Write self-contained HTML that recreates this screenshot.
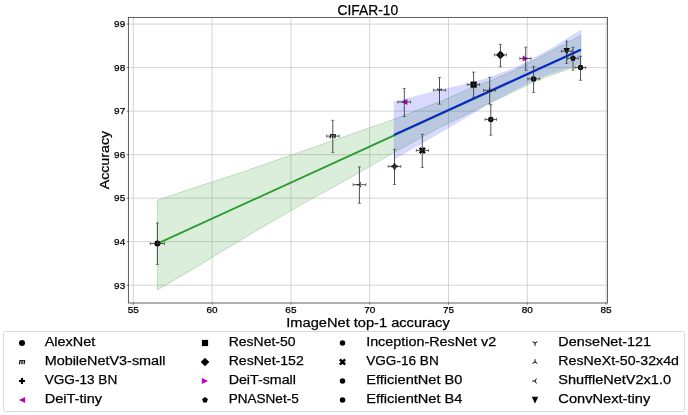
<!DOCTYPE html>
<html><head><meta charset="utf-8"><title>CIFAR-10</title>
<style>
html,body{margin:0;padding:0;background:#fff;}
body{width:688px;height:415px;overflow:hidden;font-family:"Liberation Sans",sans-serif;}
svg{display:block;will-change:transform;}
text{font-family:"Liberation Sans",sans-serif;fill:#000;stroke:#000;stroke-width:0.25px;}
</style></head><body>
<svg width="688" height="415" viewBox="0 0 688 415">
<rect width="688" height="415" fill="#fff"/>
<path d="M133.30 17.4V303.0M212.10 17.4V303.0M290.90 17.4V303.0M369.70 17.4V303.0M448.50 17.4V303.0M527.30 17.4V303.0M606.10 17.4V303.0M128.4 285.20H607.4M128.4 241.68H607.4M128.4 198.16H607.4M128.4 154.64H607.4M128.4 111.12H607.4M128.4 67.60H607.4M128.4 24.08H607.4" stroke="#cacaca" stroke-width="0.8" fill="none"/>
<path d="M157.35 200.2L200 185.8L240 172.9L300 152.0L394 119.3L430 105.4L440 101.6L475 86.3L490 81.0L515 70.2L550 51.8L580.9 35.5L580.9 65.0L550 75.6L535 81.4L490 103.0L480 107.8L440 127.3L394 152.4L340 183.5L300 205.3L250 234.5L190 270.9L157.35 289.9Z" fill="#2a922a" fill-opacity="0.17" stroke="#2a922a" stroke-opacity="0.4" stroke-width="0.6"/>
<path d="M394 102.1L430 92.4L475 82.0L490 77.3L515 68.0L550 49.3L580.9 30.0L580.9 63.8L550 74.0L535 79.7L490 102.6L480 109.3L444.8 130L394 159.3Z" fill="#0000ff" fill-opacity="0.15" stroke="#0000ff" stroke-opacity="0.1" stroke-width="0.6"/>
<path d="M157.4 243.65L580.9 49.96" stroke="#2f9c2f" stroke-width="1.9" fill="none"/>
<path d="M394.0 134.84L580.9 49.61" stroke="#0a20da" stroke-width="2.1" fill="none"/>
<circle cx="157.4" cy="243.6" r="3.00" fill="#000"/>
<path d="M157.4 223.0V264.4M150.2 243.6H164.5" stroke="#333" stroke-width="0.85" fill="none"/><path d="M155.8 223.0h3.2M155.8 264.4h3.2M150.2 242.0v3.2M164.5 242.0v3.2" stroke="#333" stroke-width="0.6" fill="none"/>
<text x="332.8" y="137.70" font-size="7.50" font-style="italic" font-weight="bold" text-anchor="middle" fill="#000">m</text>
<path d="M332.8 120.3V152.4M326.6 136.1H339.3" stroke="#333" stroke-width="0.85" fill="none"/><path d="M331.2 120.3h3.2M331.2 152.4h3.2M326.6 134.5v3.2M339.3 134.5v3.2" stroke="#333" stroke-width="0.6" fill="none"/>
<path d="M359.4 184.7L356.60 184.70M359.4 184.7L360.80 187.12M359.4 184.7L360.80 182.28" stroke="#000" stroke-width="1.0" fill="none"/>
<path d="M359.4 166.9V203.3M353.1 184.7H365.9" stroke="#333" stroke-width="0.85" fill="none"/><path d="M357.79999999999995 166.9h3.2M357.79999999999995 203.3h3.2M353.1 183.1v3.2M365.9 183.1v3.2" stroke="#333" stroke-width="0.6" fill="none"/>
<path d="M393.40 163.40h2.20v1.90h1.90v2.20h-1.90v1.90h-2.20v-1.90h-1.90v-2.20h1.90Z" fill="#000"/>
<path d="M394.5 149.4V184.5M388.2 166.4H400.75" stroke="#333" stroke-width="0.85" fill="none"/><path d="M392.9 149.4h3.2M392.9 184.5h3.2M388.2 164.8v3.2M400.75 164.8v3.2" stroke="#333" stroke-width="0.6" fill="none"/>
<path d="M401.20 102.0L407.40 98.90L407.40 105.10Z" fill="#bf00bf"/>
<path d="M404.3 88.4V116.6M397.8 102.0H410.6" stroke="#333" stroke-width="0.85" fill="none"/><path d="M402.7 88.4h3.2M402.7 116.6h3.2M397.8 100.4v3.2M410.6 100.4v3.2" stroke="#333" stroke-width="0.6" fill="none"/>
<path transform="rotate(45 422.3 150.4)" d="M421.05 146.70h2.50v2.45h2.45v2.50h-2.45v2.45h-2.50v-2.45h-2.45v-2.50h2.45Z" fill="#000"/>
<path d="M422.3 134.3V167.4M416.3 150.4H428.6" stroke="#333" stroke-width="0.85" fill="none"/><path d="M420.7 134.3h3.2M420.7 167.4h3.2M416.3 148.8v3.2M428.6 148.8v3.2" stroke="#333" stroke-width="0.6" fill="none"/>
<path d="M439.5 90.1L439.50 92.90M439.5 90.1L437.08 88.70M439.5 90.1L441.92 88.70" stroke="#000" stroke-width="1.0" fill="none"/>
<path d="M439.5 77.5V104.2M433.4 90.1H445.6" stroke="#333" stroke-width="0.85" fill="none"/><path d="M437.9 77.5h3.2M437.9 104.2h3.2M433.4 88.5v3.2M445.6 88.5v3.2" stroke="#333" stroke-width="0.6" fill="none"/>
<rect x="470.50" y="81.50" width="6.20" height="6.20" fill="#000"/>
<path d="M473.6 72.1V97.3M467.3 84.6H479.6" stroke="#333" stroke-width="0.85" fill="none"/><path d="M472.0 72.1h3.2M472.0 97.3h3.2M467.3 83.0v3.2M479.6 83.0v3.2" stroke="#333" stroke-width="0.6" fill="none"/>
<path d="M489.7 90.3L489.70 87.50M489.7 90.3L492.12 91.70M489.7 90.3L487.28 91.70" stroke="#000" stroke-width="1.0" fill="none"/>
<path d="M489.7 77.3V104.0M483.5 90.3H495.6" stroke="#333" stroke-width="0.85" fill="none"/><path d="M488.09999999999997 77.3h3.2M488.09999999999997 104.0h3.2M483.5 88.7v3.2M495.6 88.7v3.2" stroke="#333" stroke-width="0.6" fill="none"/>
<circle cx="490.8" cy="119.4" r="2.75" fill="#000"/>
<path d="M490.8 104.7V135.2M485.0 119.4H496.6" stroke="#333" stroke-width="0.85" fill="none"/><path d="M489.2 104.7h3.2M489.2 135.2h3.2M485.0 117.80000000000001v3.2M496.6 117.80000000000001v3.2" stroke="#333" stroke-width="0.6" fill="none"/>
<path d="M496.10 54.9L500.4 50.60L504.70 54.9L500.4 59.20Z" fill="#000"/>
<path d="M500.4 44.4V66.8M494.3 54.9H506.4" stroke="#333" stroke-width="0.85" fill="none"/><path d="M498.79999999999995 44.4h3.2M498.79999999999995 66.8h3.2M494.3 53.3v3.2M506.4 53.3v3.2" stroke="#333" stroke-width="0.6" fill="none"/>
<path d="M528.80 58.5L522.60 55.40L522.60 61.60Z" fill="#bf00bf"/>
<path d="M525.7 47.2V70.3M519.8 58.5H531.0" stroke="#333" stroke-width="0.85" fill="none"/><path d="M524.1 47.2h3.2M524.1 70.3h3.2M519.8 56.9v3.2M531.0 56.9v3.2" stroke="#333" stroke-width="0.6" fill="none"/>
<circle cx="533.6" cy="78.9" r="2.75" fill="#000"/>
<path d="M533.6 66.4V92.4M527.8 78.9H539.8" stroke="#333" stroke-width="0.85" fill="none"/><path d="M532.0 66.4h3.2M532.0 92.4h3.2M527.8 77.30000000000001v3.2M539.8 77.30000000000001v3.2" stroke="#333" stroke-width="0.6" fill="none"/>
<path d="M566.7 54.70L563.45 48.00L569.95 48.00Z" fill="#000"/>
<path d="M566.7 41.1V63.4M561.4 51.25H572.1" stroke="#333" stroke-width="0.85" fill="none"/><path d="M565.1 41.1h3.2M565.1 63.4h3.2M561.4 49.65v3.2M572.1 49.65v3.2" stroke="#333" stroke-width="0.6" fill="none"/>
<path d="M573.00 55.30L575.85 57.37L574.76 60.73L571.24 60.73L570.15 57.37Z" fill="#000"/>
<path d="M573.0 47.3V70.2M567.5 58.3H578.3" stroke="#333" stroke-width="0.85" fill="none"/><path d="M571.4 47.3h3.2M571.4 70.2h3.2M567.5 56.699999999999996v3.2M578.3 56.699999999999996v3.2" stroke="#333" stroke-width="0.6" fill="none"/>
<circle cx="580.5" cy="67.6" r="2.75" fill="#000"/>
<path d="M580.5 56.3V80.3M575.1 67.6H585.7" stroke="#333" stroke-width="0.85" fill="none"/><path d="M578.9 56.3h3.2M578.9 80.3h3.2M575.1 66.0v3.2M585.7 66.0v3.2" stroke="#333" stroke-width="0.6" fill="none"/>
<rect x="128.4" y="17.4" width="479.00" height="285.60" fill="none" stroke="#444" stroke-width="0.85"/>
<path d="M133.30 303.0v1.7M212.10 303.0v1.7M290.90 303.0v1.7M369.70 303.0v1.7M448.50 303.0v1.7M527.30 303.0v1.7M606.10 303.0v1.7M128.4 285.20h-1.7M128.4 241.68h-1.7M128.4 198.16h-1.7M128.4 154.64h-1.7M128.4 111.12h-1.7M128.4 67.60h-1.7M128.4 24.08h-1.7" stroke="#444" stroke-width="0.7" fill="none"/>
<text x="133.30" y="312.9" font-size="9.4" stroke-width="0.1" text-anchor="middle" textLength="11.1" lengthAdjust="spacingAndGlyphs">55</text>
<text x="212.10" y="312.9" font-size="9.4" stroke-width="0.1" text-anchor="middle" textLength="11.1" lengthAdjust="spacingAndGlyphs">60</text>
<text x="290.90" y="312.9" font-size="9.4" stroke-width="0.1" text-anchor="middle" textLength="11.1" lengthAdjust="spacingAndGlyphs">65</text>
<text x="369.70" y="312.9" font-size="9.4" stroke-width="0.1" text-anchor="middle" textLength="11.1" lengthAdjust="spacingAndGlyphs">70</text>
<text x="448.50" y="312.9" font-size="9.4" stroke-width="0.1" text-anchor="middle" textLength="11.1" lengthAdjust="spacingAndGlyphs">75</text>
<text x="527.30" y="312.9" font-size="9.4" stroke-width="0.1" text-anchor="middle" textLength="11.1" lengthAdjust="spacingAndGlyphs">80</text>
<text x="606.10" y="312.9" font-size="9.4" stroke-width="0.1" text-anchor="middle" textLength="11.1" lengthAdjust="spacingAndGlyphs">85</text>
<text x="125.2" y="288.50" font-size="9.4" stroke-width="0.1" text-anchor="end" textLength="11.1" lengthAdjust="spacingAndGlyphs">93</text>
<text x="125.2" y="244.98" font-size="9.4" stroke-width="0.1" text-anchor="end" textLength="11.1" lengthAdjust="spacingAndGlyphs">94</text>
<text x="125.2" y="201.46" font-size="9.4" stroke-width="0.1" text-anchor="end" textLength="11.1" lengthAdjust="spacingAndGlyphs">95</text>
<text x="125.2" y="157.94" font-size="9.4" stroke-width="0.1" text-anchor="end" textLength="11.1" lengthAdjust="spacingAndGlyphs">96</text>
<text x="125.2" y="114.42" font-size="9.4" stroke-width="0.1" text-anchor="end" textLength="11.1" lengthAdjust="spacingAndGlyphs">97</text>
<text x="125.2" y="70.90" font-size="9.4" stroke-width="0.1" text-anchor="end" textLength="11.1" lengthAdjust="spacingAndGlyphs">98</text>
<text x="125.2" y="27.38" font-size="9.4" stroke-width="0.1" text-anchor="end" textLength="11.1" lengthAdjust="spacingAndGlyphs">99</text>
<text x="367.9" y="14.6" font-size="14.6" text-anchor="middle" textLength="60.7" lengthAdjust="spacingAndGlyphs">CIFAR-10</text>
<text x="368" y="327.3" font-size="13.7" text-anchor="middle" textLength="163.4" lengthAdjust="spacingAndGlyphs">ImageNet top-1 accuracy</text>
<text transform="translate(108.8 160.1) rotate(-90)" font-size="13.7" text-anchor="middle" textLength="58.5" lengthAdjust="spacingAndGlyphs">Accuracy</text>
<rect x="3.5" y="331.5" width="681" height="80" rx="2.2" ry="2.2" fill="#fff" stroke="#dadada" stroke-width="1.0"/>
<circle cx="22" cy="343" r="3.00" fill="#000"/>
<text x="44.65" y="346.15" font-size="13.7" textLength="50.6" lengthAdjust="spacingAndGlyphs">AlexNet</text>
<text x="22" y="363.60" font-size="7.50" font-style="italic" font-weight="bold" text-anchor="middle" fill="#000">m</text>
<text x="44.65" y="365.25" font-size="13.7" textLength="120.9" lengthAdjust="spacingAndGlyphs">MobileNetV3-small</text>
<path d="M20.90 378.00h2.20v1.90h1.90v2.20h-1.90v1.90h-2.20v-1.90h-1.90v-2.20h1.90Z" fill="#000"/>
<text x="44.65" y="384.25" font-size="13.7" textLength="72.6" lengthAdjust="spacingAndGlyphs">VGG-13 BN</text>
<path d="M18.90 400L25.10 396.90L25.10 403.10Z" fill="#bf00bf"/>
<text x="44.65" y="403.25" font-size="13.7" textLength="57.4" lengthAdjust="spacingAndGlyphs">DeiT-tiny</text>
<rect x="201.90" y="339.90" width="6.20" height="6.20" fill="#000"/>
<text x="228.65" y="346.15" font-size="13.7" textLength="66.9" lengthAdjust="spacingAndGlyphs">ResNet-50</text>
<path d="M200.70 362L205 357.70L209.30 362L205 366.30Z" fill="#000"/>
<text x="228.65" y="365.25" font-size="13.7" textLength="75.1" lengthAdjust="spacingAndGlyphs">ResNet-152</text>
<path d="M208.10 381L201.90 377.90L201.90 384.10Z" fill="#bf00bf"/>
<text x="228.65" y="384.25" font-size="13.7" textLength="67.3" lengthAdjust="spacingAndGlyphs">DeiT-small</text>
<path d="M205.00 397.00L207.85 399.07L206.76 402.43L203.24 402.43L202.15 399.07Z" fill="#000"/>
<text x="228.65" y="403.25" font-size="13.7" textLength="70.1" lengthAdjust="spacingAndGlyphs">PNASNet-5</text>
<circle cx="342.5" cy="343" r="2.75" fill="#000"/>
<text x="366.15" y="346.15" font-size="13.7" textLength="130.1" lengthAdjust="spacingAndGlyphs">Inception-ResNet v2</text>
<path transform="rotate(45 342.5 362)" d="M341.25 358.30h2.50v2.45h2.45v2.50h-2.45v2.45h-2.50v-2.45h-2.45v-2.50h2.45Z" fill="#000"/>
<text x="366.15" y="365.25" font-size="13.7" textLength="72.6" lengthAdjust="spacingAndGlyphs">VGG-16 BN</text>
<circle cx="342.5" cy="381" r="2.75" fill="#000"/>
<text x="366.15" y="384.25" font-size="13.7" textLength="96.3" lengthAdjust="spacingAndGlyphs">EfficientNet B0</text>
<circle cx="342.5" cy="400" r="2.75" fill="#000"/>
<text x="366.15" y="403.25" font-size="13.7" textLength="96.3" lengthAdjust="spacingAndGlyphs">EfficientNet B4</text>
<path d="M535 343L535.00 345.80M535 343L532.58 341.60M535 343L537.42 341.60" stroke="#000" stroke-width="1.0" fill="none"/>
<text x="558.35" y="346.15" font-size="13.7" textLength="92.7" lengthAdjust="spacingAndGlyphs">DenseNet-121</text>
<path d="M535 362L535.00 359.20M535 362L537.42 363.40M535 362L532.58 363.40" stroke="#000" stroke-width="1.0" fill="none"/>
<text x="558.35" y="365.25" font-size="13.7" textLength="120.6" lengthAdjust="spacingAndGlyphs">ResNeXt-50-32x4d</text>
<path d="M535 381L532.20 381.00M535 381L536.40 383.42M535 381L536.40 378.58" stroke="#000" stroke-width="1.0" fill="none"/>
<text x="558.35" y="384.25" font-size="13.7" textLength="112.7" lengthAdjust="spacingAndGlyphs">ShuffleNetV2x1.0</text>
<path d="M535 403.45L531.75 396.75L538.25 396.75Z" fill="#000"/>
<text x="558.35" y="403.25" font-size="13.7" textLength="91.9" lengthAdjust="spacingAndGlyphs">ConvNext-tiny</text>
</svg></body></html>
